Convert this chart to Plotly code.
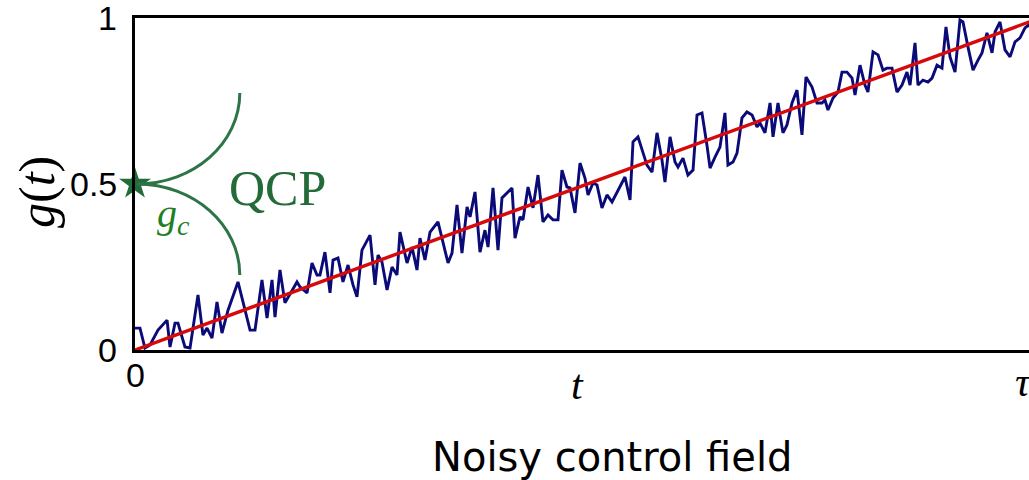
import plotly.graph_objects as go

# Noisy control field samples (t, g)
t_noisy = [0, 0.0055, 0.011, 0.0166, 0.0254, 0.0354, 0.0387, 0.0442, 0.0475, 0.0552,
           0.0608, 0.0696, 0.0751, 0.0796, 0.0851, 0.0906, 0.0961, 0.1028, 0.1138, 0.1271,
           0.1326, 0.1403, 0.1459, 0.1514, 0.1547, 0.1602, 0.1657, 0.1790, 0.1823, 0.1901,
           0.1956, 0.2011, 0.2044, 0.2099, 0.2155, 0.2188, 0.2243, 0.2298, 0.2354, 0.2409,
           0.2453, 0.2508, 0.2597, 0.2652, 0.2685, 0.2729, 0.2785, 0.2840, 0.2895, 0.2928,
           0.3006, 0.3061, 0.3116, 0.3149, 0.3204, 0.3260, 0.3348, 0.3459, 0.3503, 0.3558,
           0.3613, 0.3669, 0.3702, 0.3757, 0.3812, 0.3867, 0.3901, 0.3956, 0.4011, 0.4055,
           0.4166, 0.4199, 0.4254, 0.4287, 0.4343, 0.4398, 0.4453, 0.4508, 0.4564, 0.4619,
           0.4674, 0.4718, 0.4773, 0.4807, 0.4862, 0.4917, 0.4972, 0.5006, 0.5061, 0.5105,
           0.5160, 0.5215, 0.5271, 0.5337, 0.5414, 0.5470, 0.5503, 0.5558, 0.5602, 0.5657,
           0.5713, 0.5768, 0.5823, 0.5856, 0.5912, 0.5967, 0.6000, 0.6055, 0.6110, 0.6166,
           0.6210, 0.6265, 0.6320, 0.6354, 0.6409, 0.6464, 0.6519, 0.6552, 0.6608, 0.6652,
           0.6707, 0.6762, 0.6818, 0.6873, 0.6906, 0.6961, 0.7017, 0.7050, 0.7105, 0.7160,
           0.7204, 0.7260, 0.7315, 0.7370, 0.7414, 0.7481, 0.7536, 0.7591, 0.7624, 0.7657,
           0.7713, 0.7768, 0.7812, 0.7867, 0.7923, 0.7956, 0.8011, 0.8066, 0.8099, 0.8155,
           0.8210, 0.8265, 0.8309, 0.8365, 0.8420, 0.8475, 0.8530, 0.8564, 0.8619, 0.8652,
           0.8707, 0.8762, 0.8807, 0.8862, 0.8917, 0.8961, 0.9006, 0.9061, 0.9116, 0.9149,
           0.9204, 0.9260, 0.9315, 0.9359, 0.9414, 0.9470, 0.9503, 0.9558, 0.9613, 0.9669,
           0.9724, 0.9779, 0.9834, 0.9878, 0.9934, 1.0]
g_noisy = [0.066, 0.066, 0.006, 0.015, 0.060, 0.090, 0.009, 0.081, 0.081, 0.009,
           0.006, 0.166, 0.045, 0.066, 0.036, 0.145, 0.051, 0.120, 0.205, 0.060,
           0.060, 0.211, 0.096, 0.211, 0.099, 0.241, 0.142, 0.205, 0.190, 0.172,
           0.262, 0.226, 0.226, 0.295, 0.172, 0.271, 0.277, 0.205, 0.256, 0.196,
           0.160, 0.301, 0.346, 0.196, 0.286, 0.265, 0.181, 0.250, 0.226, 0.355,
           0.262, 0.310, 0.241, 0.337, 0.271, 0.355, 0.386, 0.262, 0.292, 0.437,
           0.292, 0.431, 0.401, 0.476, 0.295, 0.361, 0.310, 0.488, 0.301, 0.458,
           0.488, 0.337, 0.401, 0.392, 0.491, 0.428, 0.527, 0.386, 0.407, 0.392,
           0.392, 0.542, 0.491, 0.488, 0.413, 0.563, 0.518, 0.467, 0.503, 0.497,
           0.428, 0.467, 0.446, 0.482, 0.521, 0.452, 0.627, 0.642, 0.602, 0.557,
           0.536, 0.654, 0.572, 0.506, 0.642, 0.566, 0.551, 0.578, 0.527, 0.542,
           0.708, 0.714, 0.617, 0.548, 0.581, 0.611, 0.714, 0.557, 0.566, 0.593,
           0.699, 0.717, 0.708, 0.672, 0.684, 0.654, 0.744, 0.642, 0.744, 0.654,
           0.678, 0.744, 0.783, 0.648, 0.822, 0.792, 0.744, 0.744, 0.753, 0.723,
           0.759, 0.777, 0.837, 0.837, 0.819, 0.768, 0.858, 0.798, 0.777, 0.898,
           0.889, 0.843, 0.849, 0.849, 0.777, 0.798, 0.837, 0.798, 0.925, 0.798,
           0.813, 0.807, 0.819, 0.858, 0.849, 0.973, 0.883, 0.837, 0.994, 0.988,
           0.913, 0.843, 0.873, 0.895, 0.955, 0.895, 0.958, 0.988, 0.904, 0.883,
           0.928, 0.940, 0.970, 0.980, 0.950, 1.0]

# Ideal linear ramp
t_ramp = [0, 1]
g_ramp = [0, 1]

# Critical point
t_qcp = [0]
g_qcp = [0.5]

y_ticks = [0, 0.5, 1]
y_ticklabels = ["0", "0.5", "1"]

GREEN = "#2d7447"
GREEN_TXT = "#236b38"
GC_GREEN = "#1f7f24"
NAVY = "#0a0a78"
RED = "#d60a0a"

W, H = 1029, 480
L, R, T, B = 135, 0, 18, 130
pw, ph = W - L - R, H - T - B


def px(X):
    return (X - L) / pw


def py(Y):
    return (H - B - Y) / ph


fig = go.Figure()
fig.add_trace(go.Scatter(x=t_noisy, y=g_noisy, mode="lines",
                         line=dict(color=NAVY, width=2.9), showlegend=False))
fig.add_trace(go.Scatter(x=t_ramp, y=g_ramp, mode="lines",
                         line=dict(color=RED, width=3.4), showlegend=False))
fig.add_trace(go.Scatter(x=t_qcp, y=g_qcp, mode="markers",
                         marker=dict(symbol="star", size=24, color=GREEN_TXT,
                                     line=dict(width=0)),
                         cliponaxis=False, showlegend=False))

# QCP arcs (quarter ellipses leaving the critical point)
k = 0.5523
rx = 0.1138
ry = 0.274
x0 = 0.002
fig.add_shape(type="path", xref="x", yref="y",
              path=f"M {x0},0.5 C {x0 + k*rx},0.5 {x0 + rx},{0.5 + ry - k*ry} {x0 + rx},{0.5 + ry}",
              line=dict(color=GREEN, width=3))
fig.add_shape(type="path", xref="x", yref="y",
              path=f"M {x0},0.5 C {x0 + k*rx},0.5 {x0 + rx},{0.5 - ry + k*ry} {x0 + rx},{0.5 - ry}",
              line=dict(color=GREEN, width=3))

tick_font = dict(family="Liberation Sans, Arial, sans-serif", size=34, color="black")
math_font = dict(family="Liberation Serif, Times New Roman, serif", size=42, color="black")

ann = []
for v, s in zip(y_ticks, y_ticklabels):
    ann.append(dict(x=px(119), y=v, xref="paper", yref="paper", text=s, showarrow=False,
                    xanchor="right", yanchor="middle", font=tick_font))
ann.append(dict(x=px(135), y=py(375), xref="paper", yref="paper", text="0", showarrow=False,
                xanchor="center", yanchor="middle", font=tick_font))
ann.append(dict(x=px(577), y=py(385), xref="paper", yref="paper", text="<i>t</i>",
                showarrow=False, xanchor="center", yanchor="middle", font=math_font))
ann.append(dict(x=px(1013), y=py(382), xref="paper", yref="paper", text="<i>τ</i>",
                showarrow=False, xanchor="left", yanchor="middle", font=math_font))
ann.append(dict(x=px(37), y=py(192), xref="paper", yref="paper", text="<i>g</i>(<i>t</i>)",
                showarrow=False, textangle=-90,
                font=dict(family="Liberation Serif, serif", size=50, color="black"),
                xanchor="center", yanchor="middle"))
ann.append(dict(x=0.158, y=0.487, xref="x", yref="y", text="QCP", showarrow=False,
                xanchor="center", yanchor="middle",
                font=dict(family="Liberation Serif, Times New Roman, serif", size=50, color=GREEN_TXT)))
ann.append(dict(x=0.042, y=0.405, xref="x", yref="y", text="<i>g</i><sub><i>c</i></sub>",
                showarrow=False, xanchor="center", yanchor="middle",
                font=dict(family="Liberation Serif, Times New Roman, serif", size=40, color=GC_GREEN)))
ann.append(dict(x=px(612), y=py(457), xref="paper", yref="paper", text="Noisy control field",
                showarrow=False, xanchor="center", yanchor="middle",
                font=dict(family="DejaVu Sans, sans-serif", size=40, color="black")))

fig.update_layout(
    width=W, height=H,
    margin=dict(l=L, r=R, t=T, b=B, pad=0),
    plot_bgcolor="white", paper_bgcolor="white",
    annotations=ann,
    xaxis=dict(range=[0, 894 / 905], showgrid=False, zeroline=False, showticklabels=False,
               ticks="", showline=True, linecolor="black", linewidth=3, mirror=True),
    yaxis=dict(range=[0, 1], showgrid=False, zeroline=False, showticklabels=False,
               ticks="", showline=True, linecolor="black", linewidth=3, mirror=False),
)

fig.write_html("out.html")
